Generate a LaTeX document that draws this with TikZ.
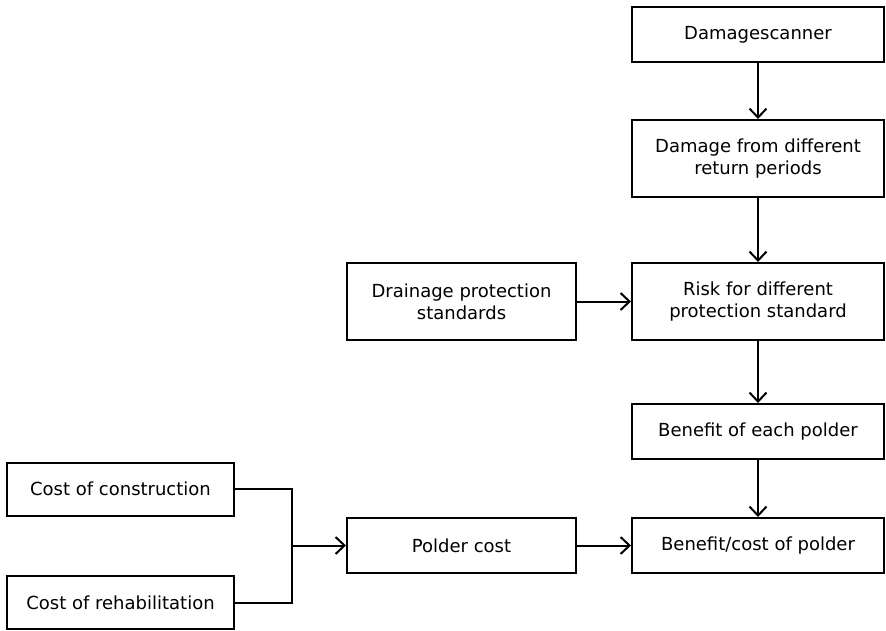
\documentclass[tikz,border=0pt]{standalone}
\usepackage{fontspec}
\setmainfont{DejaVu Sans}
\usetikzlibrary{arrows.meta, positioning}

\begin{document}
\begin{tikzpicture}[
    x=1pt, y=-1pt,
    stage/.style={rectangle, draw=black, line width=2pt, align=center, minimum width=252pt, minimum height=55pt, inner sep=2pt, font=\fontsize{18}{22}\selectfont, fill=white},
    tallstage/.style={stage, minimum height=77pt},
    inputbox/.style={stage, minimum width=229pt},
    flowline/.style={draw, line width=2pt, -{Straight Barb[length=9pt, width=17pt, line width=2pt]}},
    joinline/.style={draw, line width=2pt}
]
\useasboundingbox (0,0) rectangle (886,630);

% ─── Main chain (right column) ───────────────────────────────────────
\node[stage] (scanner) at (758, 34.5) {Damagescanner};
\node[tallstage] (damage) at (758, 158.5) {Damage from different\\return periods};
\node[tallstage] (risk) at (758, 301.5) {Risk for different\\protection standard};
\node[stage] (benefit) at (758, 431.5) {Benefit of each polder};
\node[stage] (ratio) at (758, 545.5) {Benefit/cost of polder};

\draw[flowline] (scanner) -- (damage);
\draw[flowline] (damage) -- (risk);
\draw[flowline] (risk) -- (benefit);
\draw[flowline] (benefit) -- (ratio);

% ─── Middle column ───────────────────────────────────────────────────
\node[inputbox, minimum height=77pt] (drainage) at (461.5, 301.5) {Drainage protection\\standards};
\node[inputbox] (poldercost) at (461.5, 545.5) {Polder cost};

\draw[flowline] (drainage) -- (risk);
\draw[flowline] (poldercost) -- (ratio);

% ─── Cost inputs (left column) ───────────────────────────────────────
\node[inputbox, minimum width=227pt, minimum height=53pt] (construction) at (120.5, 489) {Cost of construction};
\node[inputbox, minimum width=227pt, minimum height=53pt] (rehab) at (120.5, 602.5) {Cost of rehabilitation};

\coordinate (merge) at (292, 545.5);
\draw[joinline] (construction.east) -| (merge);
\draw[joinline] (rehab.east) -| (merge);
\draw[flowline] (merge) -- (poldercost.west);

\end{tikzpicture}
\end{document}
